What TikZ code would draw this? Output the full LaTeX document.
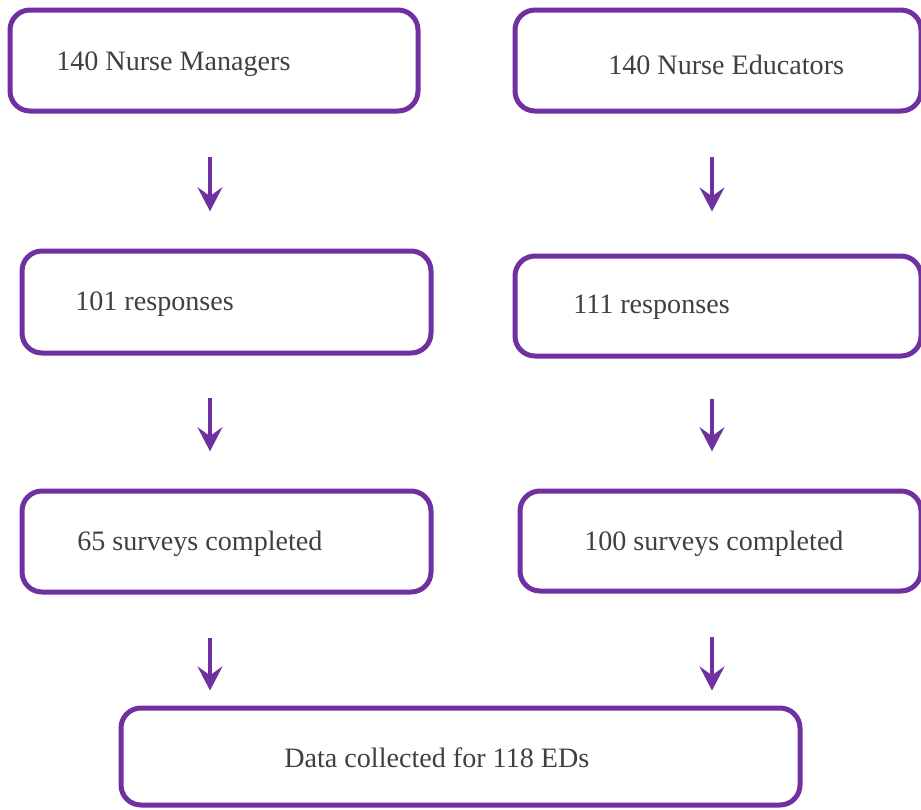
\documentclass[tikz,border=0pt]{standalone}
\usepackage{fontspec}
\setmainfont{Liberation Serif}
\usetikzlibrary{arrows.meta}
\definecolor{boxpurple}{HTML}{7030A0}
\definecolor{txtgray}{HTML}{404040}

\begin{document}
\begin{tikzpicture}[
		b/.style = {rectangle,	draw=boxpurple,	line width=0.125cm,	rounded corners=0.5cm,	inner sep=0pt},
		l/.style = {anchor=west,	inner sep=0pt,	text=txtgray,	font=\fontsize{20}{24}\selectfont,	text height=0.66em,	text depth=0pt},
		r/.style = {-{Stealth[length=0.6cm, width=0.62cm, inset=0.22cm]},	draw=boxpurple,	line width=0.1cm,	shorten <=1.08cm,	shorten >=0.93cm}
		]
		
		\useasboundingbox (0, 0) rectangle (23.025, -20.225);
		
		%Nodes
		\node[b, minimum width=10.2cm,		minimum height=2.525cm]	(nm)	at	(5.35, -1.5125)		{};
		\node[b, minimum width=10.15cm,	minimum height=2.525cm]	(ne)	at	(17.95, -1.5125)	{};
		\node[b, minimum width=10.225cm,	minimum height=2.55cm]	(nmr)	at	(5.6625, -7.55)		{};
		\node[b, minimum width=10.15cm,	minimum height=2.5cm]	(ner)	at	(17.95, -7.65)	{};
		\node[b, minimum width=10.225cm,	minimum height=2.525cm]	(nms)	at	(5.6625, -13.5375)	{};
		\node[b, minimum width=10.025cm,	minimum height=2.5cm]	(nes)	at	(18.0125, -13.525)	{};
		\node[b, minimum width=16.975cm,	minimum height=2.425cm]	(data)	at	(11.5125, -18.9125)	{};
		
		\node[l]	(nmt)	at	(1.4, -1.65)		{140 Nurse Managers};
		\node[l]	(net)	at	(15.2, -1.75)		{140 Nurse Educators};
		\node[l]	(nmrt)	at	(1.875, -7.65)		{101 responses};
		\node[l]	(nert)	at	(14.325, -7.725)	{111 responses};
		\node[l]	(nmst)	at	(1.925, -13.65)		{65 surveys completed};
		\node[l]	(nest)	at	(14.6, -13.65)		{100 surveys completed};
		\node[l]	(datat)	at	(7.1, -19.075)		{Data collected for 118 EDs};
		
		\coordinate	(lx)	at	(5.25, 0);
		\coordinate	(rx)	at	(17.8, 0);
		
		%Lines
		\draw[r]	(nm.south -| lx)	to	(nmr.north -| lx);
		\draw[r, shorten >=1.05cm]	(ne.south -| rx)	to	(ner.north -| rx);
		\draw[r, shorten <=1.05cm]	(nmr.south -| lx)	to	(nms.north -| lx);
		\draw[r, shorten <=1cm]	(ner.south -| rx)	to	(nes.north -| rx);
		\draw[r, shorten >=0.375cm]	(nms.south -| lx)	to	(data.north -| lx);
		\draw[r, shorten >=0.375cm]	(nes.south -| rx)	to	(data.north -| rx);
	\end{tikzpicture}
\end{document}
